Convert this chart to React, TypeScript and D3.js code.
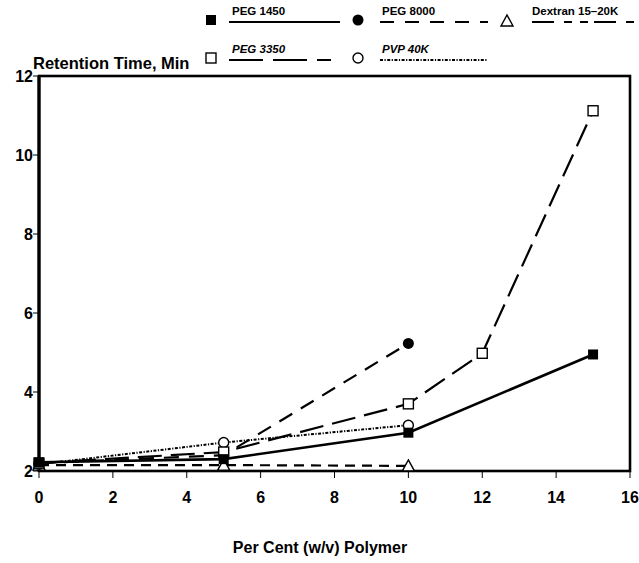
import React from "react";
import * as d3 from "d3";

const W = 639;
const H = 563;

const xTicks = [0, 2, 4, 6, 8, 10, 12, 14, 16];
const yTicks = [2, 4, 6, 8, 10, 12];

const peg1450X = [0, 5, 10, 15];
const peg1450Y = [2.22, 2.3, 2.97, 4.95];
const peg3350X = [0, 5, 10, 12, 15];
const peg3350Y = [2.2, 2.48, 3.7, 4.98, 11.12];
const peg8000X = [0, 5, 10];
const peg8000Y = [2.2, 2.4, 5.23];
const pvpX = [0, 5, 10];
const pvpY = [2.17, 2.72, 3.16];
const dexX = [0, 5, 10];
const dexY = [2.15, 2.15, 2.13];

const seriesNames = ["PEG 1450", "PEG 8000", "Dextran 15\u201320K", "PEG 3350", "PVP 40K"];

type Sym = "fsquare" | "osquare" | "fcircle" | "ocircle" | "tri";

const FONT = "'Liberation Sans', Arial, Helvetica, sans-serif";

function Marker({ sym, x, y }: { sym: Sym; x: number; y: number }) {
  const s = 10;
  if (sym === "fsquare")
    return <rect x={x - s / 2} y={y - s / 2} width={s} height={s} fill="#000" />;
  if (sym === "osquare")
    return (
      <rect x={x - s / 2} y={y - s / 2} width={s} height={s} fill="#fff" stroke="#000" strokeWidth={1.4} />
    );
  if (sym === "fcircle") return <circle cx={x} cy={y} r={5.5} fill="#000" />;
  if (sym === "ocircle")
    return <circle cx={x} cy={y} r={5} fill="#fff" stroke="#000" strokeWidth={1.4} />;
  const h = 10;
  return (
    <path
      d={`M${x},${y - h / 2 - 1} L${x + 6},${y + h / 2} L${x - 6},${y + h / 2} Z`}
      fill="#fff"
      stroke="#000"
      strokeWidth={1.4}
    />
  );
}

export default function App() {
  const left = 39;
  const right = 630;
  const top = 76;
  const bottom = 471;
  const x = d3.scaleLinear().domain([0, 16]).range([left, right]);
  const y = d3.scaleLinear().domain([2, 12]).range([bottom, top]);

  const line = d3
    .line<[number, number]>()
    .x((d) => x(d[0]))
    .y((d) => y(d[1]));

  const series = [
    { xs: dexX, ys: dexY, sym: "tri" as Sym, dash: "10,7", w: 2.2 },
    { xs: pvpX, ys: pvpY, sym: "ocircle" as Sym, dash: "3,1.5,1.2,1.5", w: 2 },
    { xs: peg8000X, ys: peg8000Y, sym: "fcircle" as Sym, dash: "15,10", w: 2.2 },
    { xs: peg3350X, ys: peg3350Y, sym: "osquare" as Sym, dash: "24,9", w: 2.2 },
    { xs: peg1450X, ys: peg1450Y, sym: "fsquare" as Sym, dash: "", w: 2.6 },
  ];

  const legend = [
    { name: seriesNames[0], sym: "fsquare" as Sym, mx: 211, my: 20, lx: 232, ly: 16, x1: 229, x2: 340, dash: "", italic: false, w: 2 },
    { name: seriesNames[1], sym: "fcircle" as Sym, mx: 358, my: 20, lx: 382, ly: 16, x1: 380, x2: 488, dash: "14,11", italic: false, w: 2 },
    { name: seriesNames[2], sym: "tri" as Sym, mx: 507, my: 21, lx: 532, ly: 16, x1: 532, x2: 636, dash: "22,10,8,8,8,6", italic: false, w: 2 },
    { name: seriesNames[3], sym: "osquare" as Sym, mx: 211, my: 58, lx: 232, ly: 54, x1: 229, x2: 331, dash: "34,10", italic: true, w: 2 },
    { name: seriesNames[4], sym: "ocircle" as Sym, mx: 358, my: 58, lx: 382, ly: 54, x1: 380, x2: 488, dash: "3,1.5,1.2,1.5", italic: true, w: 2 },
  ];

  return (
    <svg
      width={W}
      height={H}
      style={{ position: "absolute", left: 0, top: 0, background: "#fff" }}
      fontFamily={FONT}
    >
      <rect x={0} y={0} width={W} height={H} fill="#fff" />

      {/* frame */}
      <rect x={left} y={top} width={right - left} height={bottom - top} fill="none" stroke="#000" strokeWidth={2.6} />
      <line x1={left} x2={left} y1={top} y2={bottom} stroke="#000" strokeWidth={3.2} />

      {/* y ticks */}
      {yTicks.map((t) => (
        <g key={"y" + t}>
          <line x1={left - 6} x2={left} y1={y(t)} y2={y(t)} stroke="#000" strokeWidth={1} />
          <text x={left - 6} y={y(t)} dy="0.36em" textAnchor="end" fontSize={16} fontWeight="bold">
            {t}
          </text>
        </g>
      ))}

      {/* x ticks */}
      {xTicks.map((t) => (
        <g key={"x" + t}>
          <line x1={x(t)} x2={x(t)} y1={bottom} y2={bottom + 7} stroke="#000" strokeWidth={1} />
          <text x={x(t)} y={bottom + 26} dy="0.36em" textAnchor="middle" fontSize={16} fontWeight="bold">
            {t}
          </text>
        </g>
      ))}

      {/* axis titles */}
      <text x={33} y={63} dy="0.36em" fontSize={16.5} fontWeight="bold">
        Retention Time, Min
      </text>
      <text x={320} y={547} dy="0.36em" textAnchor="middle" fontSize={16} fontWeight="bold">
        Per Cent (w/v) Polymer
      </text>

      {/* series lines */}
      {series.map((s, i) => (
        <path
          key={"l" + i}
          d={line(s.xs.map((v, j) => [v, s.ys[j]] as [number, number])) || ""}
          fill="none"
          stroke="#000"
          strokeWidth={s.w}
          strokeDasharray={s.dash || undefined}
        />
      ))}

      {/* markers */}
      {series.map((s, i) => (
        <g key={"m" + i}>
          {s.xs.map((v, j) => (
            <Marker key={j} sym={s.sym} x={x(v)} y={y(s.ys[j])} />
          ))}
        </g>
      ))}

      {/* legend */}
      {legend.map((l, i) => (
        <g key={"lg" + i}>
          <Marker sym={l.sym} x={l.mx} y={l.my} />
          <text x={l.lx} y={l.ly - 1} fontSize={11.5} fontWeight="bold" fontStyle={l.italic ? "italic" : "normal"}>
            {l.name}
          </text>
          <line
            x1={l.x1}
            x2={l.x2}
            y1={l.ly + 6}
            y2={l.ly + 6}
            stroke="#000"
            strokeWidth={l.w}
            strokeDasharray={l.dash || undefined}
          />
        </g>
      ))}
    </svg>
  );
}
